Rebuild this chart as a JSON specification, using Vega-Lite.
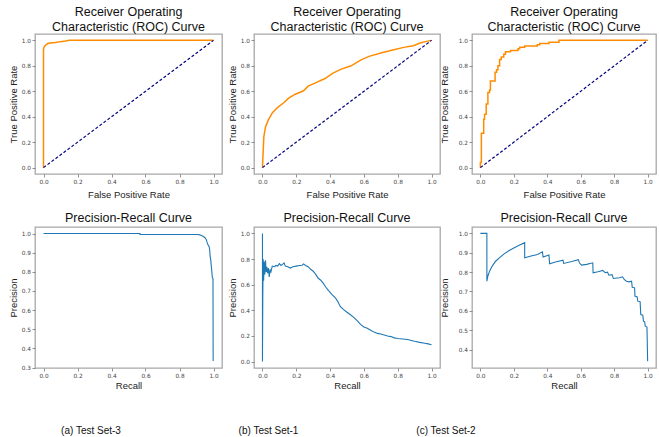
{
  "$schema": "https://vega.github.io/schema/vega-lite/v6.json",
  "padding": {"left": 7, "top": 4, "right": 0, "bottom": 0},
  "background": "white",
  "spacing": 30,
  "datasets": {
    "diag": [{"x": 0, "y": 0, "i": 0}, {"x": 1, "y": 1, "i": 1}],
    "roc3": [
      {"i": 0, "x": 0, "y": 0}, {"i": 1, "x": 0, "y": 0.93}, {"i": 2, "x": 0.003, "y": 0.945}, {"i": 3, "x": 0.008, "y": 0.955},
      {"i": 4, "x": 0.015, "y": 0.965}, {"i": 5, "x": 0.025, "y": 0.975}, {"i": 6, "x": 0.04, "y": 0.98}, {"i": 7, "x": 0.07, "y": 0.983},
      {"i": 8, "x": 0.1, "y": 0.99}, {"i": 9, "x": 0.13, "y": 0.995}, {"i": 10, "x": 0.15, "y": 1.0}, {"i": 11, "x": 1.0, "y": 1.0}
    ],
    "roc1": [
      {"i": 0, "x": 0, "y": 0}, {"i": 1, "x": 0.008, "y": 0.24}, {"i": 2, "x": 0.018, "y": 0.32}, {"i": 3, "x": 0.035, "y": 0.375},
      {"i": 4, "x": 0.058, "y": 0.43}, {"i": 5, "x": 0.087, "y": 0.47}, {"i": 6, "x": 0.126, "y": 0.51}, {"i": 7, "x": 0.155, "y": 0.546},
      {"i": 8, "x": 0.194, "y": 0.577}, {"i": 9, "x": 0.243, "y": 0.604}, {"i": 10, "x": 0.27, "y": 0.64}, {"i": 11, "x": 0.31, "y": 0.664},
      {"i": 12, "x": 0.37, "y": 0.7}, {"i": 13, "x": 0.417, "y": 0.743}, {"i": 14, "x": 0.466, "y": 0.774}, {"i": 15, "x": 0.524, "y": 0.8},
      {"i": 16, "x": 0.583, "y": 0.847}, {"i": 17, "x": 0.63, "y": 0.874}, {"i": 18, "x": 0.7, "y": 0.9}, {"i": 19, "x": 0.777, "y": 0.926},
      {"i": 20, "x": 0.835, "y": 0.945}, {"i": 21, "x": 0.893, "y": 0.958}, {"i": 22, "x": 0.932, "y": 0.979}, {"i": 23, "x": 0.97, "y": 0.992},
      {"i": 24, "x": 1.0, "y": 1.0}
    ],
    "roc2": [
      {"i": 0, "x": 0, "y": 0}, {"i": 1, "x": 0, "y": 0.04}, {"i": 2, "x": 0.006, "y": 0.04}, {"i": 3, "x": 0.006, "y": 0.27},
      {"i": 4, "x": 0.02, "y": 0.27}, {"i": 5, "x": 0.02, "y": 0.38}, {"i": 6, "x": 0.025, "y": 0.38}, {"i": 7, "x": 0.025, "y": 0.42},
      {"i": 8, "x": 0.035, "y": 0.42}, {"i": 9, "x": 0.035, "y": 0.5}, {"i": 10, "x": 0.045, "y": 0.5}, {"i": 11, "x": 0.045, "y": 0.59},
      {"i": 12, "x": 0.055, "y": 0.59}, {"i": 13, "x": 0.055, "y": 0.61}, {"i": 14, "x": 0.06, "y": 0.61}, {"i": 15, "x": 0.06, "y": 0.68},
      {"i": 16, "x": 0.088, "y": 0.68}, {"i": 17, "x": 0.088, "y": 0.75}, {"i": 18, "x": 0.097, "y": 0.75}, {"i": 19, "x": 0.097, "y": 0.77},
      {"i": 20, "x": 0.105, "y": 0.77}, {"i": 21, "x": 0.105, "y": 0.8}, {"i": 22, "x": 0.115, "y": 0.8}, {"i": 23, "x": 0.115, "y": 0.85},
      {"i": 24, "x": 0.125, "y": 0.85}, {"i": 25, "x": 0.125, "y": 0.87}, {"i": 26, "x": 0.14, "y": 0.87}, {"i": 27, "x": 0.14, "y": 0.89},
      {"i": 28, "x": 0.15, "y": 0.89}, {"i": 29, "x": 0.15, "y": 0.91}, {"i": 30, "x": 0.18, "y": 0.91}, {"i": 31, "x": 0.18, "y": 0.92},
      {"i": 32, "x": 0.225, "y": 0.92}, {"i": 33, "x": 0.225, "y": 0.935}, {"i": 34, "x": 0.235, "y": 0.935}, {"i": 35, "x": 0.235, "y": 0.945},
      {"i": 36, "x": 0.265, "y": 0.945}, {"i": 37, "x": 0.265, "y": 0.955}, {"i": 38, "x": 0.34, "y": 0.955}, {"i": 39, "x": 0.34, "y": 0.965},
      {"i": 40, "x": 0.355, "y": 0.965}, {"i": 41, "x": 0.355, "y": 0.975}, {"i": 42, "x": 0.41, "y": 0.975}, {"i": 43, "x": 0.41, "y": 0.985},
      {"i": 44, "x": 0.47, "y": 0.985}, {"i": 45, "x": 0.47, "y": 1.0}, {"i": 46, "x": 1.0, "y": 1.0}
    ],
    "pr3": [
      {"i": 0, "x": 0, "y": 1.0}, {"i": 1, "x": 0.567, "y": 1.0}, {"i": 2, "x": 0.567, "y": 0.995}, {"i": 3, "x": 0.908, "y": 0.995},
      {"i": 4, "x": 0.92, "y": 0.993}, {"i": 5, "x": 0.938, "y": 0.986}, {"i": 6, "x": 0.95, "y": 0.978}, {"i": 7, "x": 0.957, "y": 0.969},
      {"i": 8, "x": 0.962, "y": 0.955}, {"i": 9, "x": 0.967, "y": 0.943}, {"i": 10, "x": 0.975, "y": 0.93}, {"i": 11, "x": 0.978, "y": 0.91},
      {"i": 12, "x": 0.98, "y": 0.882}, {"i": 13, "x": 0.984, "y": 0.86}, {"i": 14, "x": 0.986, "y": 0.839}, {"i": 15, "x": 0.99, "y": 0.804},
      {"i": 16, "x": 0.993, "y": 0.77}, {"i": 17, "x": 0.997, "y": 0.765}, {"i": 18, "x": 0.998, "y": 0.335}
    ],
    "pr1": [
      {"i": 0, "x": 0, "y": 1.0}, {"i": 1, "x": 0, "y": 0.0}, {"i": 2, "x": 0.002, "y": 0.5}, {"i": 3, "x": 0.004, "y": 0.8},
      {"i": 4, "x": 0.007, "y": 0.63}, {"i": 5, "x": 0.01, "y": 0.78}, {"i": 6, "x": 0.014, "y": 0.68}, {"i": 7, "x": 0.018, "y": 0.79},
      {"i": 8, "x": 0.022, "y": 0.7}, {"i": 9, "x": 0.026, "y": 0.74}, {"i": 10, "x": 0.03, "y": 0.69}, {"i": 11, "x": 0.035, "y": 0.73},
      {"i": 12, "x": 0.04, "y": 0.66}, {"i": 13, "x": 0.045, "y": 0.72}, {"i": 14, "x": 0.05, "y": 0.7}, {"i": 15, "x": 0.058, "y": 0.745},
      {"i": 16, "x": 0.07, "y": 0.74}, {"i": 17, "x": 0.08, "y": 0.75}, {"i": 18, "x": 0.09, "y": 0.745}, {"i": 19, "x": 0.1, "y": 0.765},
      {"i": 20, "x": 0.11, "y": 0.75}, {"i": 21, "x": 0.12, "y": 0.76}, {"i": 22, "x": 0.128, "y": 0.77}, {"i": 23, "x": 0.135, "y": 0.745},
      {"i": 24, "x": 0.15, "y": 0.74}, {"i": 25, "x": 0.165, "y": 0.73}, {"i": 26, "x": 0.18, "y": 0.74}, {"i": 27, "x": 0.2, "y": 0.745},
      {"i": 28, "x": 0.22, "y": 0.75}, {"i": 29, "x": 0.235, "y": 0.752}, {"i": 30, "x": 0.243, "y": 0.762}, {"i": 31, "x": 0.255, "y": 0.75},
      {"i": 32, "x": 0.27, "y": 0.74}, {"i": 33, "x": 0.285, "y": 0.72}, {"i": 34, "x": 0.3, "y": 0.705}, {"i": 35, "x": 0.315, "y": 0.68},
      {"i": 36, "x": 0.33, "y": 0.65}, {"i": 37, "x": 0.345, "y": 0.635}, {"i": 38, "x": 0.36, "y": 0.61}, {"i": 39, "x": 0.375, "y": 0.58},
      {"i": 40, "x": 0.39, "y": 0.555}, {"i": 41, "x": 0.41, "y": 0.525}, {"i": 42, "x": 0.43, "y": 0.5}, {"i": 43, "x": 0.445, "y": 0.47},
      {"i": 44, "x": 0.46, "y": 0.43}, {"i": 45, "x": 0.48, "y": 0.405}, {"i": 46, "x": 0.5, "y": 0.385}, {"i": 47, "x": 0.52, "y": 0.365},
      {"i": 48, "x": 0.54, "y": 0.345}, {"i": 49, "x": 0.56, "y": 0.32}, {"i": 50, "x": 0.58, "y": 0.29}, {"i": 51, "x": 0.6, "y": 0.27},
      {"i": 52, "x": 0.62, "y": 0.26}, {"i": 53, "x": 0.64, "y": 0.245}, {"i": 54, "x": 0.66, "y": 0.23}, {"i": 55, "x": 0.68, "y": 0.22},
      {"i": 56, "x": 0.7, "y": 0.215}, {"i": 57, "x": 0.72, "y": 0.208}, {"i": 58, "x": 0.74, "y": 0.2}, {"i": 59, "x": 0.76, "y": 0.195},
      {"i": 60, "x": 0.78, "y": 0.185}, {"i": 61, "x": 0.8, "y": 0.18}, {"i": 62, "x": 0.83, "y": 0.176}, {"i": 63, "x": 0.86, "y": 0.172},
      {"i": 64, "x": 0.88, "y": 0.165}, {"i": 65, "x": 0.9, "y": 0.158}, {"i": 66, "x": 0.93, "y": 0.15}, {"i": 67, "x": 0.96, "y": 0.143},
      {"i": 68, "x": 0.98, "y": 0.138}, {"i": 69, "x": 1.0, "y": 0.132}
    ],
    "pr2": [
      {"i": 0, "x": 0, "y": 1.0}, {"i": 1, "x": 0.039, "y": 1.0}, {"i": 2, "x": 0.039, "y": 0.753}, {"i": 3, "x": 0.045, "y": 0.78},
      {"i": 4, "x": 0.055, "y": 0.805}, {"i": 5, "x": 0.07, "y": 0.83}, {"i": 6, "x": 0.09, "y": 0.855}, {"i": 7, "x": 0.115, "y": 0.875},
      {"i": 8, "x": 0.14, "y": 0.893}, {"i": 9, "x": 0.17, "y": 0.91}, {"i": 10, "x": 0.2, "y": 0.925}, {"i": 11, "x": 0.235, "y": 0.94},
      {"i": 12, "x": 0.265, "y": 0.952}, {"i": 13, "x": 0.265, "y": 0.874}, {"i": 14, "x": 0.303, "y": 0.883}, {"i": 15, "x": 0.342, "y": 0.891},
      {"i": 16, "x": 0.371, "y": 0.905}, {"i": 17, "x": 0.375, "y": 0.878}, {"i": 18, "x": 0.41, "y": 0.888}, {"i": 19, "x": 0.414, "y": 0.843},
      {"i": 20, "x": 0.449, "y": 0.852}, {"i": 21, "x": 0.494, "y": 0.862}, {"i": 22, "x": 0.498, "y": 0.845}, {"i": 23, "x": 0.547, "y": 0.855},
      {"i": 24, "x": 0.586, "y": 0.864}, {"i": 25, "x": 0.592, "y": 0.848}, {"i": 26, "x": 0.605, "y": 0.836}, {"i": 27, "x": 0.635, "y": 0.84},
      {"i": 28, "x": 0.672, "y": 0.848}, {"i": 29, "x": 0.674, "y": 0.797}, {"i": 30, "x": 0.703, "y": 0.802}, {"i": 31, "x": 0.732, "y": 0.809},
      {"i": 32, "x": 0.746, "y": 0.797}, {"i": 33, "x": 0.76, "y": 0.8}, {"i": 34, "x": 0.768, "y": 0.784}, {"i": 35, "x": 0.787, "y": 0.787},
      {"i": 36, "x": 0.795, "y": 0.767}, {"i": 37, "x": 0.83, "y": 0.771}, {"i": 38, "x": 0.85, "y": 0.776}, {"i": 39, "x": 0.86, "y": 0.762},
      {"i": 40, "x": 0.873, "y": 0.753}, {"i": 41, "x": 0.889, "y": 0.75}, {"i": 42, "x": 0.904, "y": 0.753}, {"i": 43, "x": 0.908, "y": 0.722},
      {"i": 44, "x": 0.922, "y": 0.719}, {"i": 45, "x": 0.924, "y": 0.676}, {"i": 46, "x": 0.9375, "y": 0.672}, {"i": 47, "x": 0.941, "y": 0.65},
      {"i": 48, "x": 0.955, "y": 0.647}, {"i": 49, "x": 0.959, "y": 0.581}, {"i": 50, "x": 0.971, "y": 0.578}, {"i": 51, "x": 0.975, "y": 0.547},
      {"i": 52, "x": 0.982, "y": 0.543}, {"i": 53, "x": 0.986, "y": 0.521}, {"i": 54, "x": 0.996, "y": 0.516}, {"i": 55, "x": 1.0, "y": 0.34}
    ],
    "captions": [
      {"caption": "(a) Test Set-3"}, {"caption": "(b) Test Set-1"}, {"caption": "(c) Test Set-2"}
    ]
  },
  "vconcat": [
    {
      "columns": 3,
      "bounds": "flush",
      "spacing": {"row": 53, "column": 32},
      "concat": [
        {
          "width": 187, "height": 140,
          "title": {"text": ["Receiver Operating", "Characteristic (ROC) Curve"], "offset": 1},
          "encoding": {
            "x": {"field": "x", "type": "quantitative", "scale": {"domain": [-0.05, 1.05], "nice": false, "zero": false},
                  "axis": {"values": [0, 0.2, 0.4, 0.6, 0.8, 1], "format": ".1f", "labelOverlap": false, "title": "False Positive Rate", "titlePadding": 5}},
            "y": {"field": "y", "type": "quantitative", "scale": {"domain": [-0.05, 1.05], "nice": false, "zero": false},
                  "axis": {"values": [0, 0.2, 0.4, 0.6, 0.8, 1], "format": ".1f", "labelOverlap": false, "title": "True Positive Rate", "titlePadding": 3}},
            "order": {"field": "i"}
          },
          "layer": [
            {"data": {"name": "roc3"}, "mark": {"type": "line", "color": "#ff8c00", "strokeWidth": 1.5}},
            {"data": {"name": "diag"}, "mark": {"type": "line", "color": "#000080", "strokeDash": [3, 2], "strokeWidth": 1.2}}
          ]
        },
        {
          "width": 186, "height": 140,
          "title": {"text": ["Receiver Operating", "Characteristic (ROC) Curve"], "offset": 1},
          "encoding": {
            "x": {"field": "x", "type": "quantitative", "scale": {"domain": [-0.05, 1.05], "nice": false, "zero": false},
                  "axis": {"values": [0, 0.2, 0.4, 0.6, 0.8, 1], "format": ".1f", "labelOverlap": false, "title": "False Positive Rate", "titlePadding": 5}},
            "y": {"field": "y", "type": "quantitative", "scale": {"domain": [-0.05, 1.05], "nice": false, "zero": false},
                  "axis": {"values": [0, 0.2, 0.4, 0.6, 0.8, 1], "format": ".1f", "labelOverlap": false, "title": "True Positive Rate", "titlePadding": 3}},
            "order": {"field": "i"}
          },
          "layer": [
            {"data": {"name": "roc1"}, "mark": {"type": "line", "color": "#ff8c00", "strokeWidth": 1.5}},
            {"data": {"name": "diag"}, "mark": {"type": "line", "color": "#000080", "strokeDash": [3, 2], "strokeWidth": 1.2}}
          ]
        },
        {
          "width": 184, "height": 140,
          "title": {"text": ["Receiver Operating", "Characteristic (ROC) Curve"], "offset": 1},
          "encoding": {
            "x": {"field": "x", "type": "quantitative", "scale": {"domain": [-0.05, 1.05], "nice": false, "zero": false},
                  "axis": {"values": [0, 0.2, 0.4, 0.6, 0.8, 1], "format": ".1f", "labelOverlap": false, "title": "False Positive Rate", "titlePadding": 5}},
            "y": {"field": "y", "type": "quantitative", "scale": {"domain": [-0.05, 1.05], "nice": false, "zero": false},
                  "axis": {"values": [0, 0.2, 0.4, 0.6, 0.8, 1], "format": ".1f", "labelOverlap": false, "title": "True Positive Rate", "titlePadding": 9}},
            "order": {"field": "i"}
          },
          "layer": [
            {"data": {"name": "roc2"}, "mark": {"type": "line", "color": "#ff8c00", "strokeWidth": 1.5}},
            {"data": {"name": "diag"}, "mark": {"type": "line", "color": "#000080", "strokeDash": [3, 2], "strokeWidth": 1.2}}
          ]
        },
        {
          "width": 187, "height": 141,
          "title": {"text": "Precision-Recall Curve", "offset": 3},
          "data": {"name": "pr3"},
          "mark": {"type": "line", "color": "#1f77b4", "strokeWidth": 1.1},
          "encoding": {
            "x": {"field": "x", "type": "quantitative", "scale": {"domain": [-0.05, 1.05], "nice": false, "zero": false},
                  "axis": {"values": [0, 0.2, 0.4, 0.6, 0.8, 1], "format": ".1f", "title": "Recall", "titlePadding": 2}},
            "y": {"field": "y", "type": "quantitative", "scale": {"domain": [0.298, 1.034], "nice": false, "zero": false},
                  "axis": {"values": [0.3, 0.4, 0.5, 0.6, 0.7, 0.8, 0.9, 1.0], "format": ".1f", "title": "Precision", "titlePadding": 3}},
            "order": {"field": "i"}}
        },
        {
          "width": 186, "height": 141,
          "title": {"text": "Precision-Recall Curve", "offset": 3},
          "data": {"name": "pr1"},
          "mark": {"type": "line", "color": "#1f77b4", "strokeWidth": 1.1},
          "encoding": {
            "x": {"field": "x", "type": "quantitative", "scale": {"domain": [-0.05, 1.05], "nice": false, "zero": false},
                  "axis": {"values": [0, 0.2, 0.4, 0.6, 0.8, 1], "format": ".1f", "title": "Recall", "titlePadding": 2}},
            "y": {"field": "y", "type": "quantitative", "scale": {"domain": [-0.05, 1.05], "nice": false, "zero": false},
                  "axis": {"values": [0, 0.2, 0.4, 0.6, 0.8, 1], "format": ".1f", "title": "Precision", "titlePadding": 3}},
            "order": {"field": "i"}}
        },
        {
          "width": 184, "height": 141,
          "title": {"text": "Precision-Recall Curve", "offset": 3},
          "data": {"name": "pr2"},
          "mark": {"type": "line", "color": "#1f77b4", "strokeWidth": 1.1},
          "encoding": {
            "x": {"field": "x", "type": "quantitative", "scale": {"domain": [-0.05, 1.05], "nice": false, "zero": false},
                  "axis": {"values": [0, 0.2, 0.4, 0.6, 0.8, 1], "format": ".1f", "title": "Recall", "titlePadding": 2}},
            "y": {"field": "y", "type": "quantitative", "scale": {"domain": [0.305, 1.033], "nice": false, "zero": false},
                  "axis": {"values": [0.4, 0.5, 0.6, 0.7, 0.8, 0.9, 1.0], "format": ".1f", "title": "Precision", "titlePadding": 9}},
            "order": {"field": "i"}}
        }
      ]
    },
    {
      "width": 467, "height": 20,
      "view": {"stroke": null},
      "data": {"name": "captions"},
      "mark": {"type": "text", "font": "Liberation Sans", "fontSize": 10, "color": "#111"},
      "encoding": {
        "x": {"field": "caption", "type": "nominal", "sort": null, "scale": {"type": "point", "padding": 0.3155}, "axis": null},
        "text": {"field": "caption"}
      }
    }
  ],
  "config": {
    "view": {"stroke": "#a8a8a8", "strokeWidth": 1.3},
    "axis": {
      "grid": false, "domain": false, "tickColor": "#777", "tickSize": 3, "tickWidth": 0.8,
      "labelFont": "DejaVu Sans", "labelFontSize": 5.8, "labelColor": "#444", "labelPadding": 1.5, "labelFlush": false, "labelOverlap": false,
      "titleFont": "Liberation Sans", "titleFontSize": 9.5, "titleFontWeight": "normal", "titleColor": "#222"
    },
    "title": {"font": "Liberation Sans", "fontSize": 12.5, "fontWeight": "normal", "color": "#111", "lineHeight": 15}
  }
}
